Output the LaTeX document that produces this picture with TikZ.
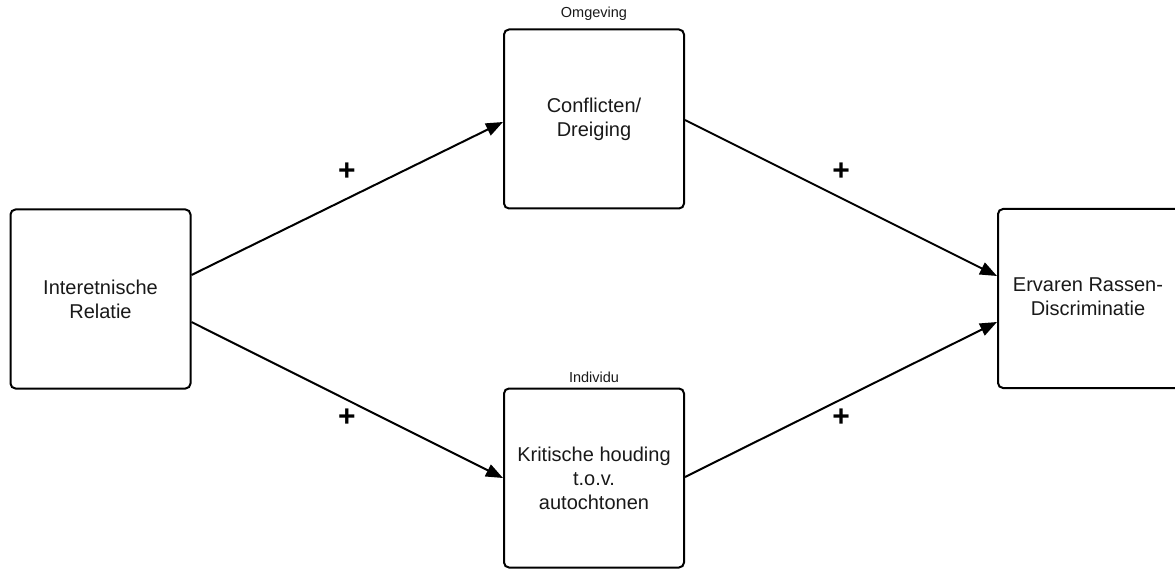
\documentclass[tikz,border=0pt]{standalone}
\usepackage{fontspec}
\setmainfont{Liberation Sans}
\usetikzlibrary{arrows.meta,calc}
\begin{document}
\begin{tikzpicture}[x=1pt,y=-1pt,
  box/.style={draw=black,line width=2pt,rounded corners=5pt,minimum width=180pt,minimum height=179pt,inner sep=0pt,align=center,font=\fontsize{20}{24}\selectfont,text=black!90},
  conn/.style={line width=2pt,-{Triangle[length=17pt,width=13pt]}},
  plus/.style={font=\fontsize{30}{30}\bfseries\selectfont,inner sep=0pt},
  lab/.style={font=\fontsize{14.5}{16}\selectfont,inner sep=0pt,text=black!90}]
\useasboundingbox (0,0) rectangle (1175,569);
\node[box] (L) at (100.5,299) {Interetnische\\Relatie};
\node[box] (T) at (594,119) {Conflicten/\\Dreiging};
\node[box] (B) at (594,478) {Kritische houding\\t.o.v.\\autochtonen};
\node[box,minimum width=200pt] (R) at (1098,298.5) {\hspace*{-20pt}\begin{tabular}{@{}c@{}}Ervaren Rassen-\\Discriminatie\end{tabular}};
\node[lab] (lo) at (594,14) {Omgeving};
\node[lab] (li) at (594,377) {Individu};
\draw[conn] ($(L.east)+(0,-24)$) -- ($(T.west)+(0,3)$);
\draw[conn] ($(L.east)+(0,23)$) -- (B.west);
\draw[conn] ($(T.east)+(0,1)$) -- ($(R.west)+(0,-22.5)$);
\draw[conn] ($(B.east)+(0,-1)$) -- ($(R.west)+(0,23.5)$);
\node[plus] (p1) at (347,172) {+};
\node[plus] (p2) at (347,418) {+};
\node[plus] (p3) at (841,172) {+};
\node[plus] (p4) at (841,418) {+};
\end{tikzpicture}
\end{document}
